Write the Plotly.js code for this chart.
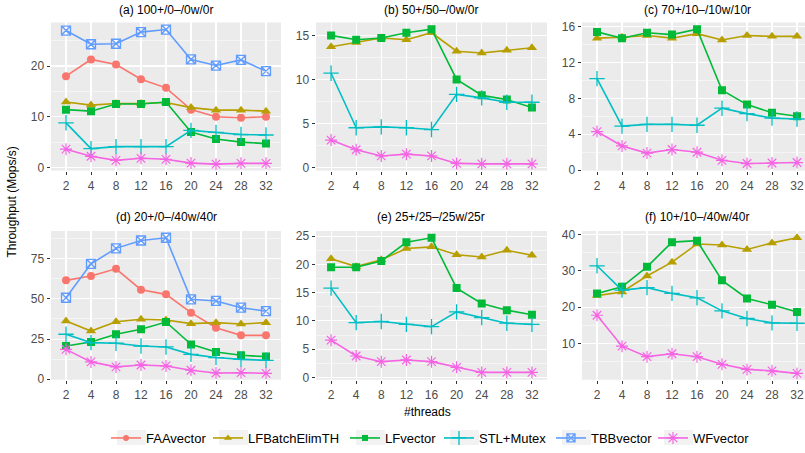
<!DOCTYPE html>
<html><head><meta charset="utf-8">
<script src="https://cdn.plot.ly/plotly-3.0.1.min.js"></script>
<style>html,body{margin:0;padding:0;background:#fff}#chart{width:805px;height:453px}</style>
</head><body><div id="chart"></div>
<script>
const threads = ['2','4','8','12','16','20','24','28','32'];
const panelTitles = ['(a) 100+/0–/0w/0r','(b) 50+/50–/0w/0r','(c) 70+/10–/10w/10r',
                     '(d) 20+/0–/40w/40r','(e) 25+/25–/25w/25r','(f) 10+/10–/40w/40r'];
const seriesNames = ['FAAvector','LFBatchElimTH','LFvector','STL+Mutex','TBBvector','WFvector'];

// (a)
const faaA = [18.0,21.3,20.3,17.4,15.7,11.4,10.0,9.8,10.0];
const lfbA = [12.9,12.3,12.6,12.6,12.8,11.8,11.3,11.3,11.1];
const lfvA = [11.4,11.1,12.5,12.5,12.9,7.0,5.6,5.0,4.7];
const stlA = [8.8,3.7,4.1,4.1,4.1,7.3,6.9,6.5,6.4];
const tbbA = [27.0,24.3,24.4,26.7,27.2,21.3,20.1,21.2,19.0];
const wfA  = [3.6,2.2,1.4,1.8,1.6,0.85,0.65,0.8,0.8];
// (b)
const lfbB = [13.7,14.2,14.7,14.5,15.3,13.2,13.0,13.3,13.6];
const lfvB = [15.0,14.5,14.7,15.3,15.7,10.0,8.2,7.7,6.8];
const stlB = [10.7,4.5,4.6,4.5,4.3,8.3,7.9,7.4,7.4];
const wfB  = [3.1,2.0,1.3,1.5,1.3,0.45,0.4,0.4,0.4];
// (c)
const lfbC = [14.7,14.8,15.0,14.7,15.2,14.5,15.0,14.9,14.9];
const lfvC = [15.4,14.7,15.3,15.1,15.7,8.9,7.3,6.4,6.0];
const stlC = [10.2,4.9,5.1,5.1,5.0,6.9,6.3,5.8,5.7];
const wfC  = [4.3,2.7,1.9,2.3,2.0,1.1,0.74,0.8,0.85];
// (d)
const faaD = [61.5,64.2,68.7,55.7,52.8,41.4,32.1,27.3,27.3];
const lfbD = [36.2,30.0,35.8,37.3,36.9,34.6,35.2,34.4,35.2];
const lfvD = [20.7,23.2,28.0,31.1,35.6,21.7,17.0,14.9,14.1];
const stlD = [28.0,22.8,22.4,20.7,20.1,15.5,13.5,12.4,11.8];
const tbbD = [50.7,71.8,81.4,86.3,88.0,49.7,48.7,44.5,42.4];
const wfD  = [18.6,10.8,7.7,8.9,8.3,5.6,3.9,4.1,3.7];
// (e)
const lfbE = [21.0,19.6,20.8,22.8,23.1,21.7,21.3,22.5,21.6];
const lfvE = [19.5,19.5,20.6,23.9,24.7,15.8,13.1,11.9,11.1];
const stlE = [15.8,9.7,9.9,9.4,9.0,11.6,10.6,9.6,9.4];
const wfE  = [6.6,3.8,2.8,3.1,2.8,1.8,0.9,0.9,0.9];
// (f)
const lfbF = [23.2,24.2,28.6,32.4,37.4,37.1,35.9,37.7,39.1];
const lfvF = [23.8,25.6,31.1,37.9,38.3,27.4,22.4,20.7,18.7];
const stlF = [31.4,24.7,25.4,23.8,22.6,19.0,16.9,15.7,15.6];
const wfF  = [17.8,9.3,6.4,7.2,6.4,4.3,2.9,2.5,1.8];

const panelData = [
  {FAAvector:faaA, LFBatchElimTH:lfbA, LFvector:lfvA, 'STL+Mutex':stlA, TBBvector:tbbA, WFvector:wfA},
  {LFBatchElimTH:lfbB, LFvector:lfvB, 'STL+Mutex':stlB, WFvector:wfB},
  {LFBatchElimTH:lfbC, LFvector:lfvC, 'STL+Mutex':stlC, WFvector:wfC},
  {FAAvector:faaD, LFBatchElimTH:lfbD, LFvector:lfvD, 'STL+Mutex':stlD, TBBvector:tbbD, WFvector:wfD},
  {LFBatchElimTH:lfbE, LFvector:lfvE, 'STL+Mutex':stlE, WFvector:wfE},
  {LFBatchElimTH:lfbF, LFvector:lfvF, 'STL+Mutex':stlF, WFvector:wfF}
];

const styles = {
  'FAAvector':     {color:'#F8766D', symbol:'circle', size:8, lw:0, lsize:6},
  'LFBatchElimTH': {color:'#B79F00', symbol:'triangle-up', size:9, lw:0, lsize:7},
  'LFvector':      {color:'#00BA38', symbol:'square', size:8, lw:0, lsize:6},
  'STL+Mutex':     {color:'#00BFC4', symbol:'cross-thin-open', size:11, lw:1.3, lsize:10},
  'TBBvector':     {color:'#619CFF', symbol:'square-x-open', size:9, lw:1.3, lsize:8},
  'WFvector':      {color:'#F564E3', symbol:'asterisk-open', size:10, lw:1.2, lsize:10}
};

const FONT = 'Liberation Sans, Arial, sans-serif';
const W = 805, H = 453;
const xDom = [[51,281],[316,547],[582,805]];
const yDom = [[22.5,171],[231.5,380.6]];
const xRanges = [[-0.6,8.6],[-0.6,8.6],[-0.6,8.32]];
const yRanges = [[-0.63,28.6],[-0.37,16.47],[-0.05,16.45],[-0.3,92.2],[-0.4,25.9],[0.05,40.97]];
const yDticks = [10,5,4,25,5,10];
// legend key left edges (px) and key box geometry
const keyLeft = [117,219,356,450,562,664];
const keyW = 29, keyTop = 431, keyBot = 446, legY = 438.5;

const traces = [];
panelData.forEach((pd, i) => {
  const ax = i === 0 ? '' : String(i+1);
  seriesNames.forEach(name => {
    if (!pd[name]) return;
    const s = styles[name];
    traces.push({
      type:'scatter', mode:'lines+markers', name:name, legendgroup:name,
      showlegend:false,
      x: threads, y: pd[name], xaxis:'x'+ax, yaxis:'y'+ax,
      line:{color:s.color, width:1.6},
      marker:{symbol:s.symbol, size:s.size, color:s.color, line:{color:s.color, width:s.lw}}
    });
  });
});
// legend-only entries (no data), one legend per entry
seriesNames.forEach((name, k) => {
  const s = styles[name];
  traces.push({
    type:'scatter', mode:'lines+markers', name:name, legendgroup:name, showlegend:true,
    legend: k === 0 ? 'legend' : 'legend' + (k+1),
    x:[null], y:[null], xaxis:'x4', yaxis:'y4',
    line:{color:s.color, width:1.6},
    marker:{symbol:s.symbol, size:s.lsize, color:s.color, line:{color:s.color, width:s.lw}}
  });
});

const layout = {
  width:W, height:H, margin:{l:0,r:0,t:0,b:0},
  paper_bgcolor:'#ffffff', plot_bgcolor:'#EBEBEB',
  font:{family:FONT, size:12, color:'#000'},
  showlegend:true,
  annotations:[], shapes:[]
};
keyLeft.forEach((kx, k) => {
  const key = k === 0 ? 'legend' : 'legend' + (k+1);
  layout[key] = {orientation:'h', x:(kx-11)/W, xanchor:'left', y:1-legY/H, yanchor:'middle',
    font:{size:13, color:'#000', family:FONT}, bgcolor:'rgba(0,0,0,0)', borderwidth:0, itemwidth:30};
  layout.shapes.push({type:'rect', xref:'paper', yref:'paper', layer:'below',
    x0:kx/W, x1:(kx+keyW)/W, y0:1-keyBot/H, y1:1-keyTop/H,
    fillcolor:'#F2F2F2', line:{width:0}});
});

for (let i = 0; i < 6; i++) {
  const ax = i === 0 ? '' : String(i+1);
  const col = i % 3, row = Math.floor(i/3);
  const xd = xDom[col], yd = yDom[row];
  layout['xaxis'+ax] = {
    domain:[xd[0]/W, xd[1]/W], anchor:'y'+ax, type:'category',
    range:xRanges[col], showgrid:true, gridcolor:'#ffffff', gridwidth:1.1,
    zeroline:false, showline:false, ticks:'outside', ticklen:3.5, tickcolor:'#333333', tickwidth:1,
    tickfont:{size:12, color:'#4D4D4D', family:FONT}, fixedrange:true
  };
  layout['yaxis'+ax] = {
    domain:[1-yd[1]/H, 1-yd[0]/H], anchor:'x'+ax,
    range:yRanges[i], tickmode:'linear', tick0:0, dtick:yDticks[i],
    showgrid:true, gridcolor:'#ffffff', gridwidth:1.1,
    minor:{dtick:yDticks[i]/2, tick0:0, showgrid:true, gridcolor:'#ffffff', gridwidth:0.5, ticks:''},
    zeroline:false, showline:false, ticks:'outside', ticklen:3.5, tickcolor:'#333333', tickwidth:1,
    tickfont:{size:12, color:'#4D4D4D', family:FONT}, fixedrange:true
  };
  layout.annotations.push({
    text:panelTitles[i], xref:'paper', yref:'paper',
    x:(xd[0]+xd[0]+230)/2/W, y:1-(row===0?10:217)/H, xanchor:'center', yanchor:'middle',
    showarrow:false, font:{size:12, color:'#000', family:FONT}
  });
}
layout.annotations.push({text:'#threads', xref:'paper', yref:'paper', x:428/W, y:1-413/H,
  xanchor:'center', yanchor:'middle', showarrow:false, font:{size:12, color:'#000', family:FONT}});
layout.annotations.push({text:'Throughput (Mops/s)', xref:'paper', yref:'paper', x:12/W, y:1-203/H,
  xanchor:'center', yanchor:'middle', textangle:-90, showarrow:false, font:{size:12, color:'#000', family:FONT}});

Plotly.newPlot('chart', traces, layout, {displayModeBar:false, staticPlot:true});
</script></body></html>
